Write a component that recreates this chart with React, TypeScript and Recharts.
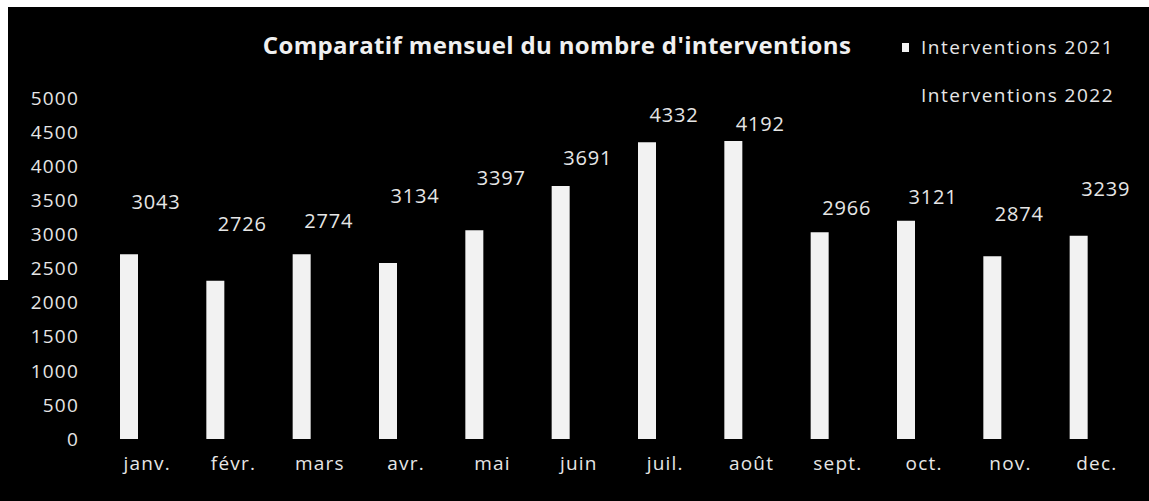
import { BarChart, Bar, XAxis, YAxis, LabelList } from 'recharts'

const months = ['janv.', 'févr.', 'mars', 'avr.', 'mai', 'juin', 'juil.', 'août', 'sept.', 'oct.', 'nov.', 'dec.']
const interventions2021 = [2710, 2320, 2710, 2580, 3060, 3710, 4350, 4370, 3030, 3200, 2680, 2980]
const interventions2022 = [3043, 2726, 2774, 3134, 3397, 3691, 4332, 4192, 2966, 3121, 2874, 3239]
const yTicks = [0, 500, 1000, 1500, 2000, 2500, 3000, 3500, 4000, 4500, 5000]

const data = months.map((month, i) => ({
    month,
    y2021: interventions2021[i],
    y2022: interventions2022[i],
}))

const font = '"Open Sans", sans-serif'
const textColor = '#e6e6e6'
const tickStyle = { fill: textColor, fontSize: 19, fontFamily: font, letterSpacing: 1.2 }

function ValueLabel(props: any) {
    const { x, y, width, value } = props
    return (
        <text x={x + width / 2 - 9} y={y - 22} fill={textColor} fontSize={20} fontFamily={font} letterSpacing={0.8} textAnchor="middle">
            {value}
        </text>
    )
}

export default function App() {
    return (
        <div style={{ position: 'absolute', left: 0, top: 0, width: 1149, height: 501, background: '#fff', overflow: 'hidden' }}>
            <div style={{ position: 'absolute', left: 8, top: 7, right: 0, bottom: 0, background: '#000' }} />
            <div style={{ position: 'absolute', left: 0, top: 280, width: 8, bottom: 0, background: '#000' }} />
            <div
                style={{
                    position: 'absolute',
                    left: 222,
                    top: 28,
                    width: 670,
                    textAlign: 'center',
                    fontFamily: font,
                    fontWeight: 700,
                    fontSize: 24,
                    letterSpacing: 0.35,
                    color: '#f0f0f0',
                    whiteSpace: 'nowrap',
                }}
            >
                Comparatif mensuel du nombre d'interventions
            </div>
            {/* légende */}
            <div style={{ position: 'absolute', left: 902, top: 23, fontFamily: font, fontSize: 19, letterSpacing: 1.5, color: textColor, lineHeight: '48px' }}>
                <div style={{ display: 'flex', alignItems: 'center' }}>
                    <span style={{ display: 'inline-block', width: 7, height: 9, background: '#f2f2f2', marginRight: 12 }} />
                    Interventions 2021
                </div>
                <div style={{ display: 'flex', alignItems: 'center' }}>
                    <span style={{ display: 'inline-block', width: 7, height: 9, background: '#000', marginRight: 12 }} />
                    Interventions 2022
                </div>
            </div>
            <div style={{ position: 'absolute', left: 0, top: 0 }}>
                <BarChart
                    width={1149}
                    height={501}
                    data={data}
                    margin={{ top: 98, right: 9, bottom: 22, left: 0 }}
                    barSize={18}
                    barGap={18}
                >
                    <YAxis
                        domain={[0, 5000]}
                        ticks={yTicks}
                        width={104}
                        axisLine={false}
                        tickLine={false}
                        tickSize={0}
                        tickMargin={25}
                        tick={tickStyle}
                    />
                    <XAxis
                        dataKey="month"
                        height={40}
                        axisLine={false}
                        tickLine={false}
                        tickSize={0}
                        tickMargin={18}
                        tick={tickStyle}
                    />
                    <Bar dataKey="y2021" name="Interventions 2021" fill="#f2f2f2" isAnimationActive={false} />
                    <Bar dataKey="y2022" name="Interventions 2022" fill="#000" isAnimationActive={false}>
                        <LabelList dataKey="y2022" content={<ValueLabel />} />
                    </Bar>
                </BarChart>
            </div>
        </div>
    )
}
